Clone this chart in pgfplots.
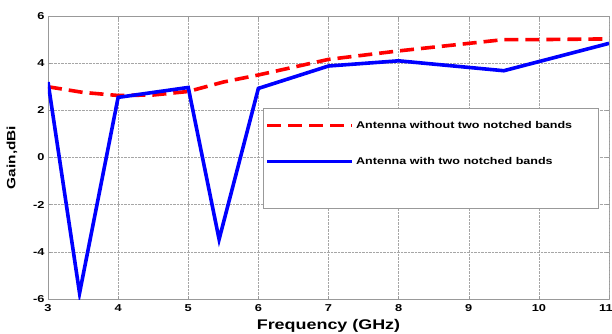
\documentclass[border=0pt]{standalone}
\usepackage{fontspec}
\setmainfont[FakeStretch=1.28]{Liberation Sans}
\usepackage{pgfplots}
\pgfplotsset{compat=1.18}
\begin{document}
\begin{tikzpicture}[x=1pt,y=1pt]
\useasboundingbox (-48,-34) rectangle (564,299);
\begin{axis}[
  name=ax,
  at={(0,0)}, anchor=south west,
  width=561pt, height=283pt, scale only axis,
  xmin=3, xmax=11, ymin=-6, ymax=6,
  xtick={3,4,5,6,7,8,9,10},
  extra x ticks={11},
  extra x tick style={xticklabel style={xshift=-3pt}},
  ytick={-6,-4,-2,0,2,4,6},
  grid=major,
  major grid style={densely dotted, gray!70, line width=0.5pt},
  axis line style={gray!80, line width=0.7pt},
  tick style={gray!80, line width=0.5pt},
  tick align=inside,
  major tick length=3pt,
  tick label style={font=\fontsize{10}{12}\selectfont\bfseries},
  /pgf/number format/assume math mode=true,
  xticklabel style={yshift=-2pt},
  xlabel={Frequency (GHz)},
  ylabel={Gain,dBi},
  xlabel style={font=\fontsize{14}{16}\selectfont\bfseries, yshift=-1pt},
  ylabel style={font=\fontsize{12}{14}\selectfont\bfseries, yshift=9pt},
  legend style={at={(axis cs:6.07,2.1)}, anchor=north west,
    draw=gray!80, line width=0.6pt, fill=white,
    font=\fontsize{9.8}{11}\selectfont\bfseries,
    row sep=23.5pt, inner ysep=11pt, inner xsep=2pt},
  legend cell align=left,
  legend image code/.code={\draw[#1] (0pt,0pt) -- (85pt,0pt);},
]
\addplot[red, line width=3.6pt, dash pattern=on 14pt off 7pt] coordinates {
 (3,3.0) (3.5,2.76) (4,2.63) (4.5,2.65) (5,2.8) (5.5,3.2) (6,3.5)
 (7,4.16) (8,4.52) (9,4.84) (9.5,5.0) (10,5.0) (11,5.03)};
\addlegendentry{\makebox[238pt][l]{Antenna without two notched bands}}
\addplot[blue, line width=3.6pt] coordinates {
 (3,3.2) (3.45,-5.75) (4,2.55) (5,2.97) (5.44,-3.47) (6,2.93)
 (7,3.88) (8,4.1) (9.5,3.68) (11,4.84)};
\addlegendentry{Antenna with two notched bands}
\addlegendimage{empty legend}
\addlegendentry{\rule[-13pt]{0pt}{13pt}}
\end{axis}
\end{tikzpicture}
\end{document}
